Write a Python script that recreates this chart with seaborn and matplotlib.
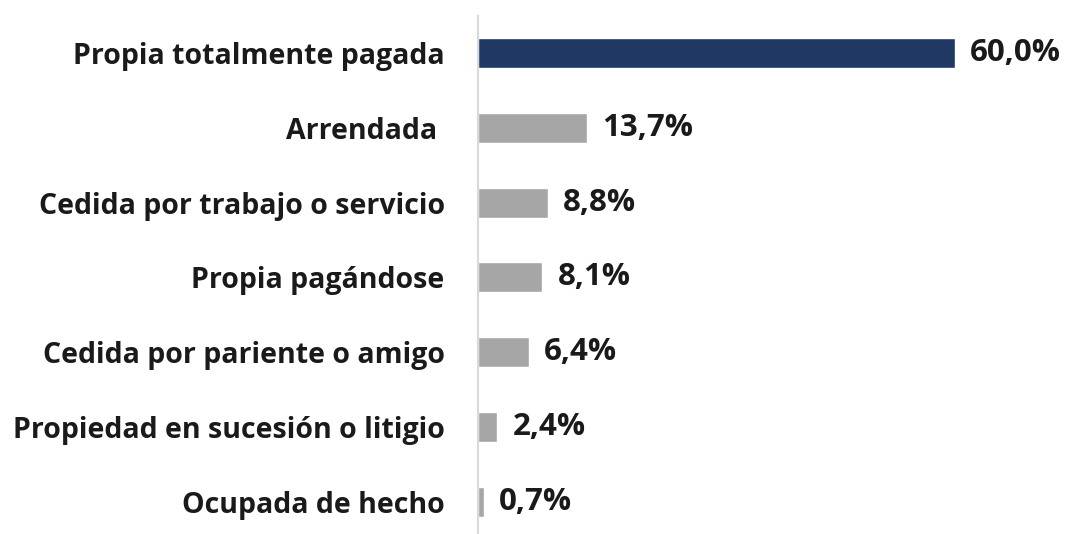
import matplotlib
matplotlib.use('Agg')
import matplotlib.pyplot as plt
import seaborn as sns
import pandas as pd

# Tenencia de la vivienda
categorias = ['Propia totalmente pagada', 'Arrendada ', 'Cedida por trabajo o servicio',
              'Propia pagándose', 'Cedida por pariente o amigo',
              'Propiedad en sucesión o litigio', 'Ocupada de hecho']
porcentajes = [60.0, 13.7, 8.8, 8.1, 6.4, 2.4, 0.7]
colores = ['#203864', '#A6A6A6', '#A6A6A6', '#A6A6A6', '#A6A6A6', '#A6A6A6', '#A6A6A6']

df = pd.DataFrame({'categoria': categorias, 'porcentaje': porcentajes})

sns.set_style('white')
plt.rcParams['font.family'] = ['Open Sans', 'DejaVu Sans']

fig = plt.figure(figsize=(10.68, 5.34), dpi=100)
ax = fig.add_axes([478 / 1068, -5.2 / 534, 590 / 1068, 523.6 / 534])

sns.barplot(data=df, x='porcentaje', y='categoria', hue='categoria', palette=colores,
            legend=False, width=0.4, ax=ax, saturation=1)

for i, v in enumerate(porcentajes):
    ax.annotate(f'{v:.1f}%'.replace('.', ','), (v, i), xytext=(11, 0), textcoords='offset points',
                va='center', ha='left', fontsize=22.5, fontweight='bold', color='#1A1A1A')

ax.set_xlim(0, 74.2)
ax.set_ylim(6.5, -0.5)
ax.set_xlabel('')
ax.set_ylabel('')
ax.set_xticks([])
for s in ['top', 'right', 'bottom']:
    ax.spines[s].set_visible(False)
ax.spines['left'].set_color('#D9D9D9')
ax.spines['left'].set_linewidth(1.5)
ax.tick_params(axis='y', length=0, pad=24)
for t in ax.get_yticklabels():
    t.set_fontsize(20.5)
    t.set_fontweight('bold')
    t.set_color('#1A1A1A')

fig.savefig('out.png', dpi=100)
plt.close()
